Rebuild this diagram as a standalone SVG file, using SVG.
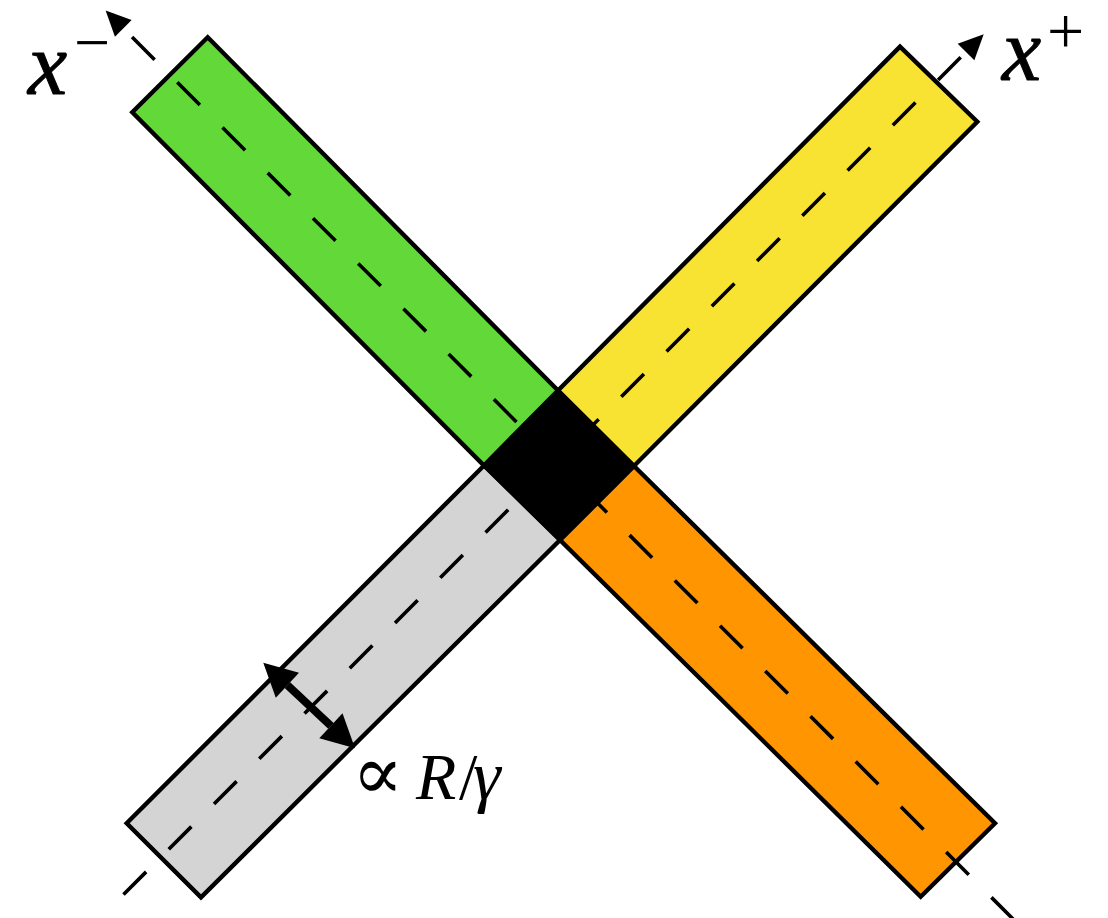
<svg xmlns="http://www.w3.org/2000/svg" width="1108" height="918" viewBox="0 0 1108 918">
  <style>
    .band { stroke: #000; stroke-width: 4.4; stroke-linejoin: miter; }
    .axis { fill: none; stroke: #000; stroke-width: 3.6; stroke-dasharray: 32 32; }
    .lbl { font-family: "Liberation Serif", "DejaVu Serif", serif; fill: #000; }
    .it { font-style: italic; }
    .heavy { stroke: #000; stroke-width: 1; }
  </style>
  <defs>
    <marker id="axhead" markerUnits="userSpaceOnUse" markerWidth="40" markerHeight="40" refX="0" refY="0" orient="auto" overflow="visible">
      <path d="M25,0 L0,-11.8 L0,11.8 Z" fill="#000" stroke="none"/>
    </marker>
    <marker id="bighead" markerUnits="userSpaceOnUse" markerWidth="50" markerHeight="50" refX="0" refY="0" orient="auto-start-reverse" overflow="visible">
      <path d="M33,0 L0,-17 L0,17 Z" fill="#000" stroke="none"/>
    </marker>
  </defs>
  <rect width="1108" height="918" fill="#fff"/>

  <g id="band-green">
    <polygon class="band" fill="#62D939" points="207.7,37.3 558,390.5 484,465.5 132.3,112.3"/>
  </g>
  <g id="band-yellow">
    <polygon class="band" fill="#F9E332" points="558,390.5 900,46.7 977.3,121.7 634,466"/>
  </g>
  <g id="band-orange">
    <polygon class="band" fill="#FF9500" points="634,466 995,823.3 920.7,896.7 560,540"/>
  </g>
  <g id="band-gray">
    <polygon class="band" fill="#D4D4D4" points="484,465.5 560,540 201,897.3 126.7,823.3"/>
  </g>

  <g id="connectors">
    <path id="axis-minus" class="axis" d="M1014,920 L123.3,28.3" marker-end="url(#axhead)"/>
    <path id="axis-plus" class="axis" d="M123.5,894.5 L966,52" marker-end="url(#axhead)"/>
    <path id="width-arrow" d="M287.4,685.2 L330.9,725.8" fill="none" stroke="#000" stroke-width="8" marker-start="url(#bighead)" marker-end="url(#bighead)"/>
  </g>

  <g id="overlap">
    <polygon fill="#000" stroke="#000" stroke-width="4" points="558,390.5 634,466 560,540 484,465.5"/>
  </g>

  <g id="label-xminus">
    <text class="lbl it heavy" font-size="88" x="28" y="94">x</text>
    <text class="lbl" font-size="64" x="74" y="64">−</text>
  </g>
  <g id="label-xplus">
    <text class="lbl it heavy" font-size="88" x="1002" y="80">x</text>
    <text class="lbl" font-size="66" x="1047" y="53">+</text>
  </g>
  <g id="label-width">
    <text class="lbl" font-size="76" x="352" y="799">∝</text>
    <text class="lbl it" font-size="66" x="416" y="799">R</text>
    <text class="lbl" font-size="66" x="459" y="799">/</text>
    <text class="lbl it" font-size="70" x="473" y="799">γ</text>
  </g>
</svg>
